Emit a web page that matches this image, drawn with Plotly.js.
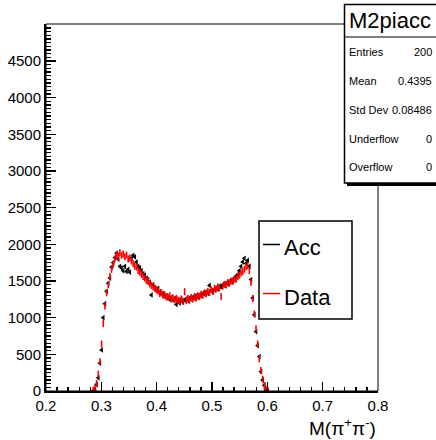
<!DOCTYPE html>
<html>
<head>
<meta charset="utf-8">
<script src="https://cdn.plot.ly/plotly-3.0.1.min.js"></script>
<style>html,body{margin:0;padding:0;background:#fff;}#chart{width:436px;height:440px;}</style>
</head>
<body>
<div id="chart"></div>
<script>
// Histogram binning (200 bins from 0.2 to 0.8); listed bins start at bin index 28
const histLow = 0.2;
const binWidth = 0.003;
const firstBin = 28;

// Data (red) bin contents
const dataCounts = [12,38,105,230,400,640,920,1160,1340,1450,1560,1660,1730,1800,1860,1840,1885,1850,1870,1830,
  1855,1800,1815,1770,1735,1700,1690,1640,1620,1590,1560,1540,1505,1495,1460,1440,1420,1400,1380,1365,
  1330,1340,1305,1310,1285,1280,1300,1255,1270,1245,1265,1240,1230,1255,1225,1355,1235,1260,1240,1275,
  1255,1290,1270,1300,1285,1320,1305,1340,1325,1360,1345,1380,1360,1400,1390,1420,1405,1290,1430,1455,
  1445,1480,1470,1500,1495,1530,1520,1560,1580,1610,1630,1660,1690,1710,1640,1480,1260,1050,850,640,
  440,280,160,75,25,6];

// Acc (black) bin contents
const accCounts = [5,25,90,180,380,560,1000,1190,1360,1470,1540,1690,1750,1820,1880,1800,1700,1680,1640,1700,
  1630,1660,1620,1810,1850,1830,1760,1700,1680,1640,1600,1580,1540,1520,1480,1310,1450,1410,1380,1400,
  1350,1320,1330,1290,1300,1270,1250,1280,1240,1260,1180,1230,1200,1250,1210,1240,1260,1230,1270,1250,
  1280,1260,1300,1280,1310,1295,1330,1320,1350,1330,1440,1370,1350,1380,1400,1390,1430,1420,1450,1440,
  1470,1460,1490,1510,1500,1540,1560,1590,1640,1700,1760,1810,1740,1780,1700,1520,1270,1040,810,620,
  470,265,150,80,15,0];

const xTickVals = [0.2,0.3,0.4,0.5,0.6,0.7,0.8];
const yTickVals = [0,500,1000,1500,2000,2500,3000,3500,4000,4500];

const statsTitle = "M2piacc";
const statsLabels = ["Entries","Mean","Std Dev","Underflow","Overflow"];
const statsValues = ["200","0.4395","0.08486","0","0"];
const legendNames = ["Acc","Data"];
const xTitle = "M(π<sup>+</sup>π<sup>-</sup>)";

const centers = n => Array.from({length:n}, (_,i) => histLow + (firstBin + i + 0.5) * binWidth);

const FONT = "Liberation Sans, Arial, Helvetica, sans-serif";

// pixel helpers for decorations (plot area: x 46..378, y 24..391)
const L = 46, R = 378, T = 24, B = 391;
const px = x => (x - L) / (R - L);
const py = y => (B - y) / (B - T);

const traces = [
  {x: centers(accCounts.length), y: accCounts, type:'scatter', mode:'markers', name: legendNames[0],
   marker:{symbol:'triangle-left', size:5, color:'black', line:{width:0}}, hoverinfo:'x+y'},
  {x: centers(dataCounts.length), y: dataCounts, type:'scatter', mode:'markers', name: legendNames[1],
   marker:{symbol:'line-ns-open', size:5, color:'red', line:{width:1.6, color:'red'}}, hoverinfo:'x+y'}
];

const shapes = [];
const annotations = [];
// frame (top and right)
shapes.push({type:'rect', xref:'paper', yref:'paper', x0:0, x1:1, y0:0, y1:1, line:{color:'black', width:1}, layer:'above'});
// stats box shadow and box
shapes.push({type:'rect', xref:'paper', yref:'paper', x0:px(347), x1:px(445), y0:py(186), y1:py(7), fillcolor:'black', line:{width:0}, layer:'above'});
shapes.push({type:'rect', xref:'paper', yref:'paper', x0:px(344.5), x1:px(442), y0:py(183), y1:py(4.5), fillcolor:'white', line:{color:'black', width:1.5}, layer:'above'});
shapes.push({type:'line', xref:'paper', yref:'paper', x0:px(344.5), x1:px(442), y0:py(37), y1:py(37), line:{color:'black', width:1}, layer:'above'});
annotations.push({xref:'paper', yref:'paper', x:px(390), y:py(21), text:statsTitle, showarrow:false, xanchor:'center', yanchor:'middle', font:{family:FONT, size:22, color:'black'}});
const rowY = [51.5, 81, 110, 138.5, 167];
statsLabels.forEach((lab, i) => {
  annotations.push({xref:'paper', yref:'paper', x:px(347), y:py(rowY[i]), text:lab, showarrow:false, xanchor:'left', yanchor:'middle', font:{family:FONT, size:11, color:'black'}});
  annotations.push({xref:'paper', yref:'paper', x:px(434), y:py(rowY[i]), text:statsValues[i], showarrow:false, xanchor:'right', yanchor:'middle', font:{family:FONT, size:11, color:'black'}});
});
// legend box
shapes.push({type:'rect', xref:'paper', yref:'paper', x0:px(259), x1:px(352), y0:py(319), y1:py(221), fillcolor:'white', line:{color:'black', width:1.5}, layer:'above'});
shapes.push({type:'line', xref:'paper', yref:'paper', x0:px(263), x1:px(280), y0:py(244.5), y1:py(244.5), line:{color:'black', width:1.5}, layer:'above'});
shapes.push({type:'line', xref:'paper', yref:'paper', x0:px(263), x1:px(280), y0:py(293.5), y1:py(293.5), line:{color:'red', width:1.5}, layer:'above'});
annotations.push({xref:'paper', yref:'paper', x:px(282), y:py(247), text:legendNames[0], showarrow:false, xanchor:'left', yanchor:'middle', font:{family:FONT, size:22, color:'black'}});
annotations.push({xref:'paper', yref:'paper', x:px(282), y:py(297), text:legendNames[1], showarrow:false, xanchor:'left', yanchor:'middle', font:{family:FONT, size:22, color:'black'}});
// x title
annotations.push({xref:'paper', yref:'paper', x:px(378), y:py(427), text:xTitle, showarrow:false, xanchor:'right', yanchor:'middle', font:{family:FONT, size:19, color:'black'}});

const layout = {
  width:436, height:440,
  margin:{l:L, r:436-R, t:T, b:440-B, pad:0},
  paper_bgcolor:'white', plot_bgcolor:'white',
  showlegend:false,
  font:{family:FONT, color:'black'},
  xaxis:{range:[0.2,0.8], tickvals:xTickVals, tickformat:'.1f', ticks:'inside', ticklen:9, tickwidth:1.3, tickcolor:'black',
    showline:true, linewidth:2, linecolor:'black', showgrid:false, zeroline:false,
    tickfont:{family:FONT, size:15, color:'black'},
    minor:{dtick:0.02, tick0:0.2, ticks:'inside', ticklen:4.5, tickwidth:1.3, tickcolor:'black', showgrid:false}},
  yaxis:{range:[0,5005], tickvals:yTickVals, ticks:'inside', ticklen:10, tickwidth:1.3, tickcolor:'black',
    showline:true, linewidth:2, linecolor:'black', showgrid:false, zeroline:false,
    tickfont:{family:FONT, size:15, color:'black'},
    minor:{dtick:50, tick0:0, ticks:'inside', ticklen:5, tickwidth:1.3, tickcolor:'black', showgrid:false}},
  shapes:shapes,
  annotations:annotations
};

Plotly.newPlot('chart', traces, layout, {staticPlot:true, displayModeBar:false});
</script>
</body>
</html>
